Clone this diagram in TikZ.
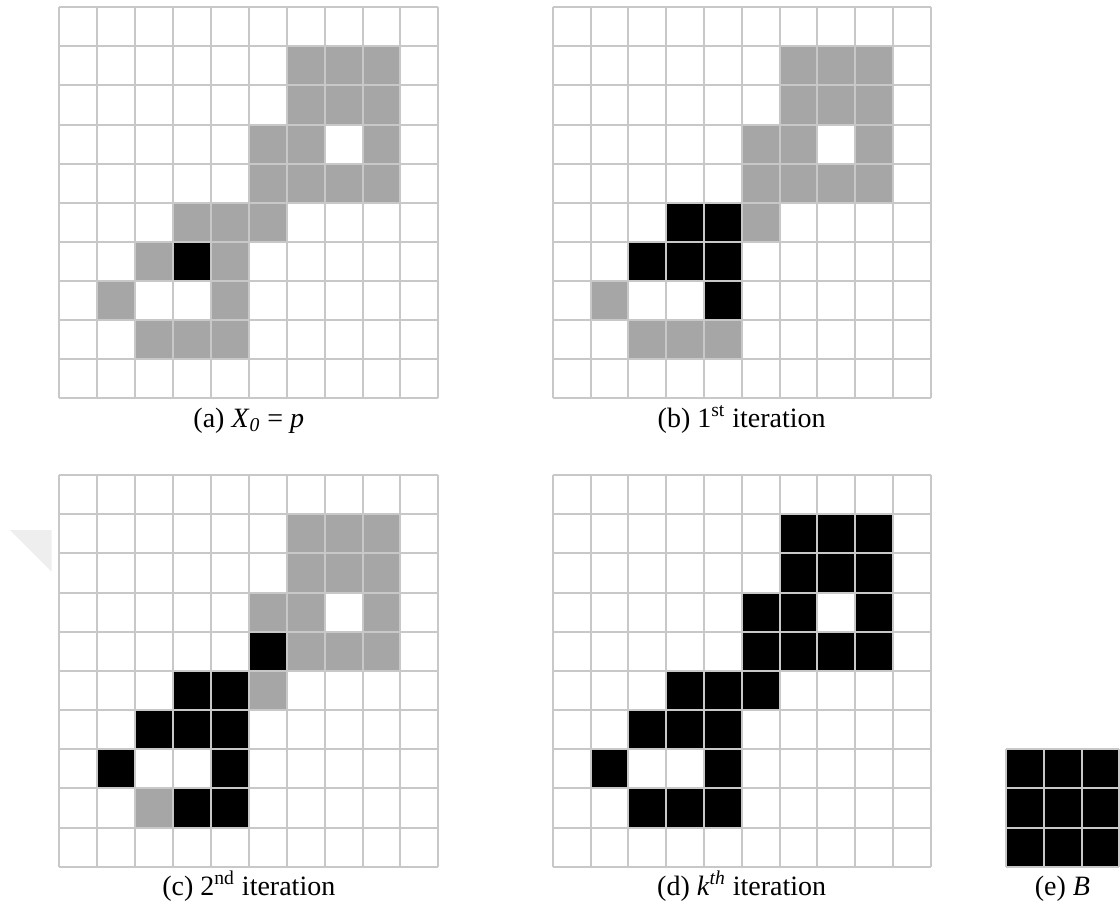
\documentclass[tikz,border=0pt]{standalone}
\usepackage{fontspec}
\setmainfont{Liberation Serif}
\definecolor{gridc}{RGB}{200,200,200}
\definecolor{cellg}{RGB}{166,166,166}
\definecolor{foldc}{RGB}{238,238,238}
\tikzset{
  gridline/.style={draw=gridc, line width=1pt},
  gcell/.style={fill=cellg},
  bcell/.style={fill=black},
  caption/.style={font=\fontsize{14}{17}\selectfont, anchor=base, inner sep=0pt},
}
\newcommand{\mygrid}[2]{%
  \foreach \i in {0,...,#1} \draw[gridline] (\i,0) -- (\i,#2);
  \foreach \j in {0,...,#2} \draw[gridline] (0,\j) -- (#1,\j);
}
\def\shapeAll{1/6,1/7,1/8,2/6,2/7,2/8,3/5,3/6,3/8,4/5,4/6,4/7,4/8,5/3,5/4,5/5,6/2,6/3,6/4,7/1,7/4,8/2,8/3,8/4}
\def\blackB{5/3,5/4,6/2,6/3,6/4,7/4}
\def\blackC{4/5,5/3,5/4,6/2,6/3,6/4,7/1,7/4,8/3,8/4}
\begin{document}
\begin{tikzpicture}[x=0.5pt, y=-0.5pt]
\useasboundingbox (0,0) rectangle (1120,904);
% faint fold artifact
\fill[foldc] (10,530) -- (51.7,530) -- (51.7,571.7) -- cycle;

% (a)
\begin{scope}[shift={(59.3,7.3)}, xscale=37.9, yscale=39.1]
  \foreach \r/\c in \shapeAll {\fill[gcell] (\c,\r) rectangle ++(1,1);}
  \fill[bcell] (3,6) rectangle ++(1,1);
  \mygrid{10}{10}
\end{scope}
\node[caption] (capa) at (248.8,427) {(a) \textit{X}\textsubscript{\textit{0}} = \textit{p}};

% (b)
\begin{scope}[shift={(552.7,7.3)}, xscale=37.8, yscale=39.1]
  \foreach \r/\c in \shapeAll {\fill[gcell] (\c,\r) rectangle ++(1,1);}
  \foreach \r/\c in \blackB {\fill[bcell] (\c,\r) rectangle ++(1,1);}
  \mygrid{10}{10}
\end{scope}
\node[caption] (capb) at (741.7,427) {(b) 1\textsuperscript{st} iteration};

% (c)
\begin{scope}[shift={(59.3,475)}, xscale=37.9, yscale=39.17]
  \foreach \r/\c in \shapeAll {\fill[gcell] (\c,\r) rectangle ++(1,1);}
  \foreach \r/\c in \blackC {\fill[bcell] (\c,\r) rectangle ++(1,1);}
  \mygrid{10}{10}
\end{scope}
\node[caption] (capc) at (248.8,895) {(c) 2\textsuperscript{nd} iteration};

% (d)
\begin{scope}[shift={(552.7,475)}, xscale=37.8, yscale=39.17]
  \foreach \r/\c in \shapeAll {\fill[bcell] (\c,\r) rectangle ++(1,1);}
  \mygrid{10}{10}
\end{scope}
\node[caption] (capd) at (741.7,895) {(d) \textit{k}\textsuperscript{\textit{th}} iteration};

% (e)
\begin{scope}[shift={(1005.7,749.3)}, xscale=37.9, yscale=39.1]
  \fill[bcell] (0,0) rectangle (3,3);
  \mygrid{3}{3}
\end{scope}
\node[caption] (cape) at (1062.5,895) {(e) \textit{B}};
\end{tikzpicture}
\end{document}
